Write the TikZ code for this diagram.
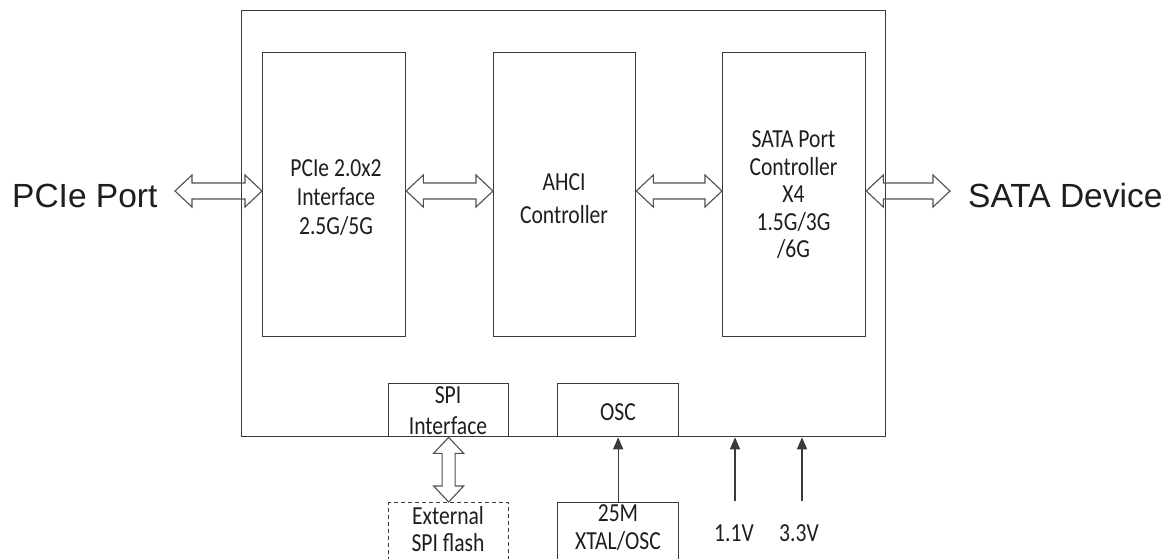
\documentclass[tikz,border=0pt]{standalone}
\usepackage{fontspec}
\usetikzlibrary{arrows.meta,calc}
\newfontfamily\calf[FakeStretch=0.83]{Carlito}
\newfontfamily\arialf{Liberation Sans}
\definecolor{lc}{HTML}{3A3A3A}
\definecolor{tc}{HTML}{1E1E1E}
\definecolor{ac}{HTML}{505050}
\tikzset{
  blk/.style={draw=lc, line width=1.3pt, inner sep=0pt, anchor=north west},
  dashblk/.style={blk, dash pattern=on 4pt off 3pt},
  txt/.style={text=tc, font=\calf\fontsize{26pt}{29pt}\selectfont, align=center, inner sep=0pt},
  bigtxt/.style={text=tc, font=\arialf\fontsize{33.5pt}{40pt}\selectfont, inner sep=0pt},
  dbl/.style={draw=ac, line width=1.1pt, line join=miter},
  uparr/.style={draw=lc, line width=1.3pt, -{Triangle[length=12pt,width=10pt]}}
}
\newcommand{\hdarrow}[2]{\draw[dbl] let \p1=(#1), \p2=(#2) in
  (\x1,\y1) -- (\x1+17pt,\y1+16pt) -- (\x1+17pt,\y1+8pt) -- (\x2-17pt,\y1+8pt) -- (\x2-17pt,\y1+16pt) -- (\x2,\y1)
  -- (\x2-17pt,\y1-16pt) -- (\x2-17pt,\y1-8pt) -- (\x1+17pt,\y1-8pt) -- (\x1+17pt,\y1-16pt) -- cycle;}
\newcommand{\vdarrow}[2]{\draw[dbl] let \p1=(#1), \p2=(#2) in
  (\x1,\y1) -- (\x1+15pt,\y1-16pt) -- (\x1+6.5pt,\y1-16pt) -- (\x1+6.5pt,\y2+16pt) -- (\x1+15pt,\y2+16pt) -- (\x1,\y2)
  -- (\x1-15pt,\y2+16pt) -- (\x1-6.5pt,\y2+16pt) -- (\x1-6.5pt,\y1-16pt) -- (\x1-15pt,\y1-16pt) -- cycle;}
\begin{document}
\begin{tikzpicture}[x=1pt,y=-1pt]
\useasboundingbox (0,0) rectangle (1174,558);
\clip (0,0) rectangle (1174,558);
\fill[white] (0,0) rectangle (1174,558);
% chip and blocks
\node[blk, minimum width=644pt, minimum height=426pt] (chip) at (241,10) {};
\node[blk, minimum width=143pt, minimum height=284pt] (b1) at (262,52) {};
\node[blk, minimum width=142pt, minimum height=284pt] (b2) at (493,52) {};
\node[blk, minimum width=143pt, minimum height=284pt] (b3) at (722,52) {};
\node[blk, minimum width=120pt, minimum height=53pt] (spi) at (388,383) {};
\node[blk, minimum width=121pt, minimum height=53pt] (osc) at (557,383) {};
\node[dashblk, minimum width=120pt, minimum height=70pt] (ext) at (388,502) {};
\node[blk, minimum width=121pt, minimum height=70pt] (xtal) at (557,502) {};
% texts
\node[txt] (t1) at (336,198) {PCIe 2.0x2\\Interface\\2.5G/5G};
\node[txt, font=\calf\fontsize{26pt}{33pt}\selectfont] (t2) at (564,199) {AHCI\\Controller};
\node[txt, font=\calf\fontsize{26pt}{27.5pt}\selectfont] (t3) at (793.5,195) {SATA Port\\Controller\\X4\\1.5G/3G\\/6G};
\node[txt, font=\calf\fontsize{26pt}{31pt}\selectfont] (tspi) at (448,411) {SPI\\Interface};
\node[txt] (tosc) at (618,412) {OSC};
\node[txt, font=\calf\fontsize{26pt}{27pt}\selectfont] (text) at (448,529) {External\\SPI flash};
\node[txt, font=\calf\fontsize{26pt}{28pt}\selectfont] (txtal) at (618,528) {25M\\XTAL/OSC};
\node[txt] (v11) at (734,533) {1.1V};
\node[txt] (v33) at (799,533) {3.3V};
\node[bigtxt, anchor=base west] (pcie) at (12,207) {PCIe Port};
\node[bigtxt, anchor=base west] (sata) at (968,207) {SATA Device};
% coordinates
\coordinate (ay) at (0,191);
\coordinate (pa) at (175,191);
\coordinate (sa) at (950,191);
\coordinate (v11s) at (735,501);
\coordinate (v33s) at (802,501);
% double arrows
\hdarrow{pa}{b1.west|-ay}
\hdarrow{b1.east|-ay}{b2.west|-ay}
\hdarrow{b2.east|-ay}{b3.west|-ay}
\hdarrow{b3.east|-ay}{sa}
\vdarrow{spi.south}{ext.north}
% single arrows
\draw[uparr] (xtal.north) -- (osc.south);
\draw[uparr] (v11s) -- (v11s|-chip.south);
\draw[uparr] (v33s) -- (v33s|-chip.south);
\end{tikzpicture}
\end{document}
